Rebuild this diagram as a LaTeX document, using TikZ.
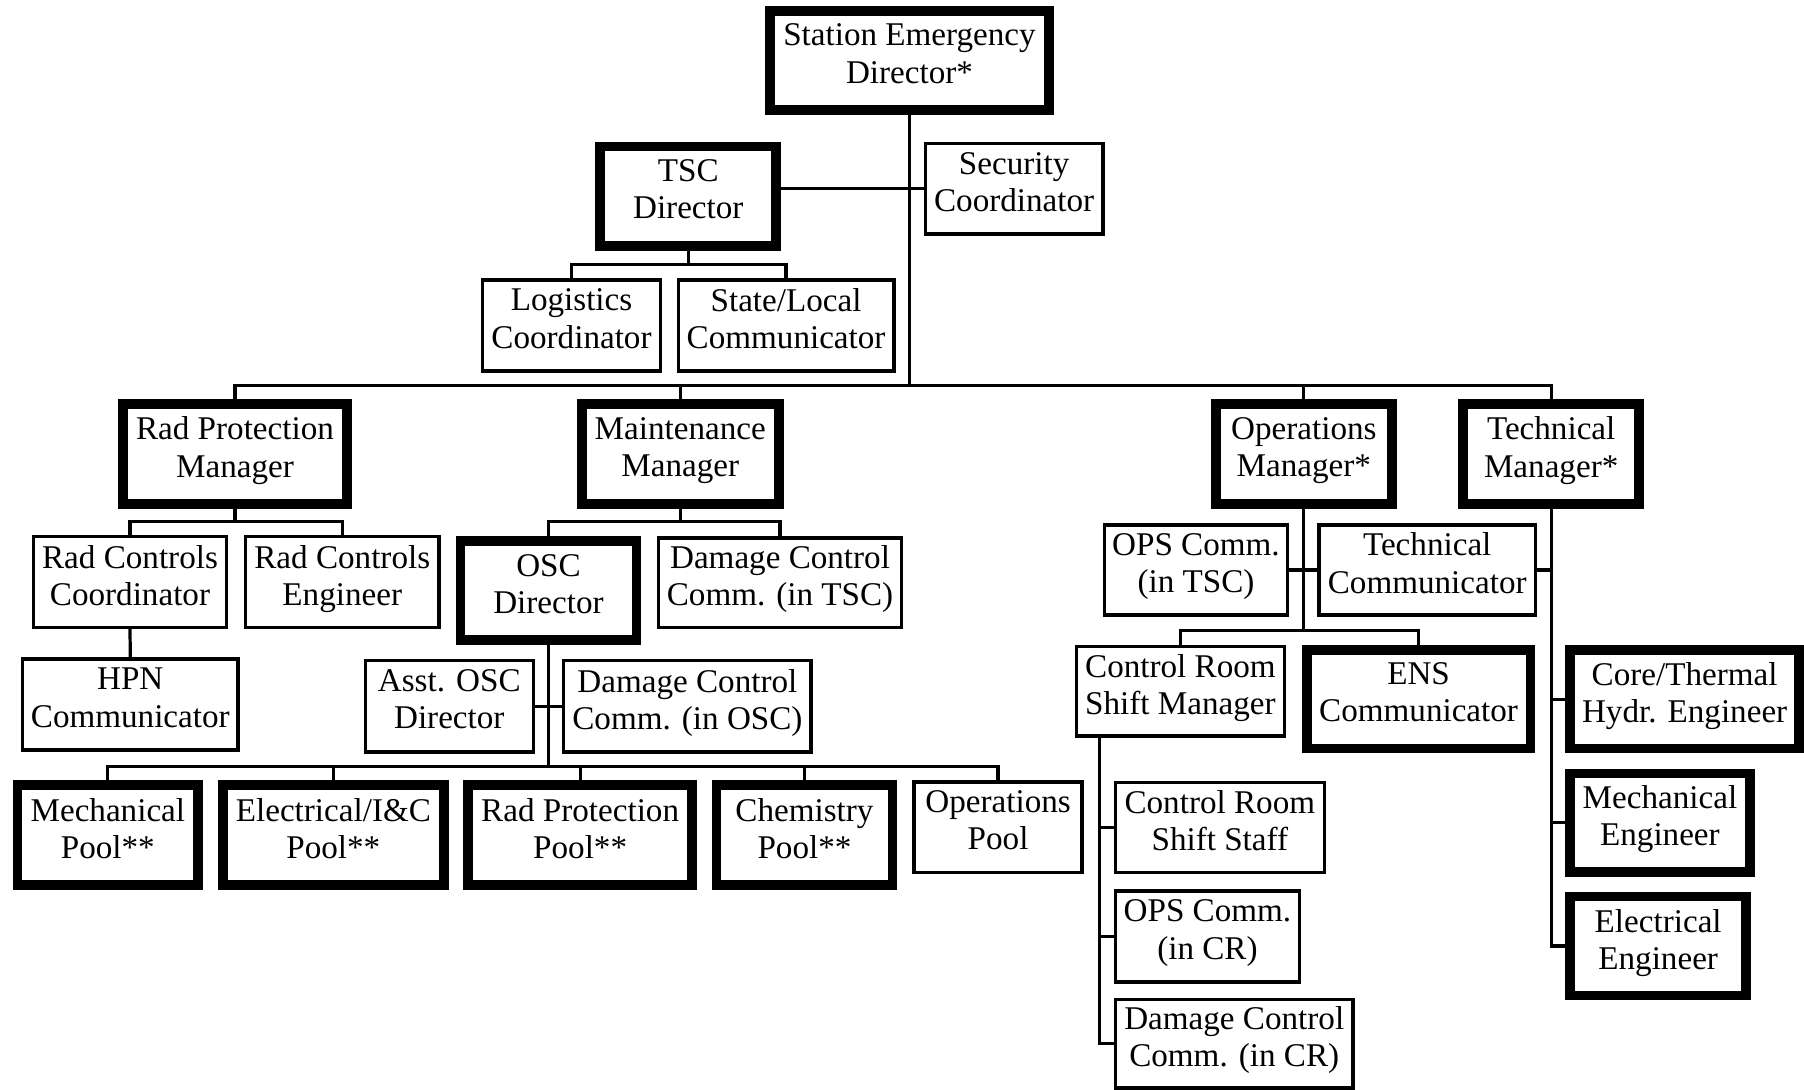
\documentclass[tikz,border=0pt]{standalone}
\usepackage{fontspec}
\setmainfont{Liberation Serif}
\tikzset{
  bx/.style={draw, fill=white, inner sep=0pt, align=center, text depth=12pt, font=\fontsize{28.8}{32.3}\selectfont},
  tk/.style={bx, line width=8.5pt},
  tn/.style={bx, line width=3pt},
  cn/.style={line width=2.8pt, line cap=rect},
}
\newcommand{\TK}[6]{\node[tk, minimum width={(#4)-(#2)-8.5}, minimum height={(#5)-(#3)-8.5}] (#1) at ({((#2)+(#4))/2},{((#3)+(#5))/2}) {#6};}
\newcommand{\TN}[6]{\node[tn, minimum width={(#4)-(#2)-3}, minimum height={(#5)-(#3)-3}] (#1) at ({((#2)+(#4))/2},{((#3)+(#5))/2}) {#6};}
\begin{document}
\begin{tikzpicture}[x=1pt,y=-1pt]
\useasboundingbox (0,0) rectangle (1568,947.4);
\TK{sed}{665}{5}{916}{100}{Station Emergency\\Director*}
\TK{tsc}{517.5}{123}{679}{218}{TSC\\Director}
\TN{sec}{803}{123}{960}{205}{Security\\Coordinator}
\TN{log}{418}{241.7}{575.5}{324}{Logistics\\Coordinator}
\TN{slc}{588}{241.7}{778.5}{324}{State/Local\\Communicator}
\TK{rpm}{102.5}{347}{306}{442}{Rad Protection\\Manager}
\TK{mm}{501.5}{347}{681}{442}{Maintenance\\Manager}
\TK{om}{1052.5}{347}{1214}{442}{Operations\\Manager*}
\TK{tm}{1267.5}{347}{1429}{442}{Technical\\Manager*}
\TN{rcc}{27.5}{465}{198.5}{547}{Rad Controls\\Coordinator}
\TN{rce}{212}{465}{383}{547}{Rad Controls\\Engineer}
\TN{hpn}{18}{571.3}{208.5}{653.5}{HPN\\Communicator}
\TK{osc}{396}{466}{557.5}{560.7}{OSC\\Director}
\TN{dct}{571}{466}{785}{547}{Damage Control\\Comm. (in TSC)}
\TN{aosc}{316}{572.8}{465}{655}{Asst. OSC\\Director}
\TN{dco}{488.5}{572.8}{706.5}{655}{Damage Control\\Comm. (in OSC)}
\TK{mp}{11}{678}{176.5}{773.7}{Mechanical\\Pool**}
\TK{ep}{189.5}{678}{390}{773.7}{Electrical/I\&C\\Pool**}
\TK{rpp}{402.5}{678}{606}{773.7}{Rad Protection\\Pool**}
\TK{cp}{618.5}{678}{780}{773.7}{Chemistry\\Pool**}
\TN{op}{793}{678}{942}{760}{Operations\\Pool}
\TN{opt}{958.5}{454.7}{1120.5}{536}{OPS Comm.\\(in TSC)}
\TN{tc}{1145}{454.7}{1336}{536}{Technical\\Communicator}
\TN{crsm}{934}{560.4}{1118}{641.4}{Control Room\\Shift Manager}
\TK{ens}{1131.5}{560.4}{1334.5}{654.9}{ENS\\Communicator}
\TN{crss}{968}{678.5}{1152.5}{759.8}{Control Room\\Shift Staff}
\TN{opc}{968}{772.8}{1131}{855}{OPS Comm.\\(in CR)}
\TN{dcr}{968}{867}{1177.5}{947}{Damage Control\\Comm. (in CR)}
\TK{cte}{1360.5}{560.4}{1568}{654.9}{Core/Thermal\\Hydr. Engineer}
\TK{me}{1360.5}{668}{1525}{762.2}{Mechanical\\Engineer}
\TK{ee}{1360.5}{775}{1522}{869.5}{Electrical\\Engineer}
% level coordinates
\coordinate (yMain) at (0,335.4);
\coordinate (yTsc) at (0,229.6);
\coordinate (yRad) at (0,453);
\coordinate (yMnt) at (0,453);
\coordinate (yPool) at (0,666);
\coordinate (yOps) at (0,547.7);
\coordinate (xCr) at (955.5,0);
% connectors
\draw[cn] (sed.south) -- (sed.south |- yMain);
\draw[cn] (rpm.north) |- (sed.south |- yMain) -| (tm.north);
\draw[cn] (mm.north) -- (mm.north |- yMain);
\draw[cn] (om.north) -- (om.north |- yMain);
\draw[cn] (tsc.east |- sec.west) -- (sec.west);
\draw[cn] (tsc.south) -- (tsc.south |- yTsc);
\draw[cn] (log.north) |- (tsc.south |- yTsc) -| (slc.north);
\draw[cn] (rpm.south) -- (rpm.south |- yRad);
\draw[cn] (rcc.north) |- (rpm.south |- yRad) -| (rce.north);
\draw[cn] (rcc.south) -- (hpn.north);
\draw[cn] (mm.south) -- (mm.south |- yMnt);
\draw[cn] (osc.north) |- (mm.south |- yMnt) -| (dct.north);
\draw[cn] (osc.south) -- (osc.south |- yPool);
\draw[cn] (aosc.east) -- (dco.west);
\draw[cn] (mp.north) |- (osc.south |- yPool) -| (op.north);
\draw[cn] (ep.north) -- (ep.north |- yPool);
\draw[cn] (rpp.north) -- (rpp.north |- yPool);
\draw[cn] (cp.north) -- (cp.north |- yPool);
\draw[cn] (om.south) -- (om.south |- yOps);
\draw[cn] (crsm.north) |- (om.south |- yOps) -| (ens.north);
\draw[cn] (opt.east) -- (tc.west);
\draw[cn] (crsm.south -| xCr) -- (dcr.west -| xCr);
\draw[cn] (crss.west) -- (crss.west -| xCr);
\draw[cn] (opc.west) -- (opc.west -| xCr);
\draw[cn] (dcr.west) -- (dcr.west -| xCr);
\draw[cn] (tm.south) -- (tm.south |- ee.west);
\draw[cn] (tc.east) -- (tc.east -| tm.south);
\draw[cn] (cte.west) -- (cte.west -| tm.south);
\draw[cn] (me.west) -- (me.west -| tm.south);
\draw[cn] (ee.west) -- (ee.west -| tm.south);
\end{tikzpicture}
\end{document}
